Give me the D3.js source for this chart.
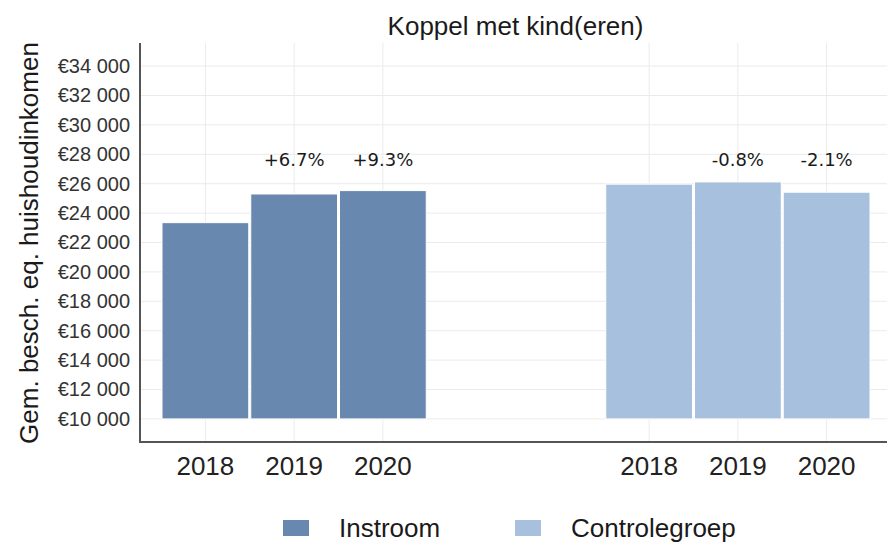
<!DOCTYPE html>
<html>
<head>
<meta charset="utf-8">
<script src="https://cdn.jsdelivr.net/npm/d3@7"></script>
<style>
  body { margin: 0; background: #fff; }
  svg { display: block; font-family: "Liberation Sans", Arial, sans-serif; }
</style>
</head>
<body>
<svg id="chart" width="887" height="542"></svg>
<script>
var years = ["2018", "2019", "2020"];
var groups = ["Instroom", "Controlegroep"];
var instroomValues = [23350, 25300, 25530];
var controleValues = [25970, 26120, 25420];
var instroomLabels = ["", "+6.7%", "+9.3%"];
var controleLabels = ["", "-0.8%", "-2.1%"];
var yTicks = [10000, 12000, 14000, 16000, 18000, 20000, 22000, 24000, 26000, 28000, 30000, 32000, 34000];
var labelLevel = 27200;  // height where the change labels sit
var colors = ["#6888b0", "#a7c0de"];

// plot area (window.top is taken, so no plain "top")
var plotLeft = 140, plotRight = 887, plotTop = 43, plotBottom = 442;

var svg = d3.select("#chart");

// two groups of three bars, two empty slots between them
var slots = [];
groups.forEach(function(g, gi) {
    if (gi > 0) { slots.push("gap1"); slots.push("gap2"); }
    years.forEach(function(y) { slots.push(g + "|" + y); });
});

var bars = [];
years.forEach(function(y, i) {
    bars.push({group: groups[0], year: y, value: instroomValues[i], label: instroomLabels[i]});
});
years.forEach(function(y, i) {
    bars.push({group: groups[1], year: y, value: controleValues[i], label: controleLabels[i]});
});

var xScale = d3.scaleBand().domain(slots).range([161, 871]).padding(0);
var yScale = d3.scaleLinear().domain([8430, 35570]).range([plotBottom, plotTop]);

function slotCenter(d) {
    return xScale(d.group + "|" + d.year) + xScale.bandwidth() / 2;
}

// grid
svg.append("g").selectAll("line")
    .data(yTicks).enter().append("line")
    .attr("x1", plotLeft).attr("x2", plotRight)
    .attr("y1", d => yScale(d)).attr("y2", d => yScale(d))
    .attr("stroke", "#ebebeb").attr("stroke-width", 1);

svg.append("g").selectAll("line")
    .data(bars).enter().append("line")
    .attr("x1", slotCenter).attr("x2", slotCenter)
    .attr("y1", plotTop).attr("y2", plotBottom)
    .attr("stroke", "#ebebeb").attr("stroke-width", 1);

// bars start at 10 000
svg.append("g").selectAll("rect")
    .data(bars).enter().append("rect")
    .attr("x", d => xScale(d.group + "|" + d.year) + 1)
    .attr("width", xScale.bandwidth() - 2)
    .attr("y", d => yScale(d.value))
    .attr("height", d => yScale(10000) - yScale(d.value))
    .attr("fill", d => colors[groups.indexOf(d.group)])
    .attr("stroke", "#fff").attr("stroke-width", 1);

// change labels
svg.append("g").selectAll("text")
    .data(bars.filter(d => d.label)).enter().append("text")
    .attr("x", slotCenter)
    .attr("y", yScale(labelLevel))
    .attr("text-anchor", "middle")
    .style("font-family", "'DejaVu Sans', sans-serif")
    .style("font-size", "18px")
    .attr("fill", "#1a1a1a")
    .text(d => d.label);

// y axis
var yAxis = d3.axisLeft(yScale)
    .tickValues(yTicks)
    .tickSize(0)
    .tickPadding(10)
    .tickFormat(d => "€" + d3.format(",")(d).replace(",", " "));

var yg = svg.append("g")
    .attr("transform", "translate(" + plotLeft + ",0)")
    .call(yAxis);
yg.select(".domain").remove();
yg.selectAll("text")
    .style("font-family", "'Liberation Sans', Arial, sans-serif")
    .style("font-size", "20px")
    .attr("fill", "#333");

// x axis
var xAxis = d3.axisBottom(xScale)
    .tickValues(bars.map(d => d.group + "|" + d.year))
    .tickSize(0)
    .tickPadding(15)
    .tickFormat(d => d.split("|")[1]);

var xg = svg.append("g")
    .attr("transform", "translate(0," + plotBottom + ")")
    .call(xAxis);
xg.select(".domain").remove();
xg.selectAll("text")
    .style("font-family", "'Liberation Sans', Arial, sans-serif")
    .style("font-size", "26px")
    .attr("fill", "#222");

// axis lines
svg.append("path")
    .attr("d", "M" + plotLeft + "," + plotTop + "V" + plotBottom + "H" + plotRight)
    .attr("fill", "none")
    .attr("stroke", "#555")
    .attr("stroke-width", 2);

// title
svg.append("text")
    .attr("x", (plotLeft + plotRight) / 2 + 2)
    .attr("y", 35)
    .attr("text-anchor", "middle")
    .style("font-size", "26px")
    .attr("fill", "#1a1a1a")
    .text("Koppel met kind(eren)");

// y axis title
svg.append("text")
    .attr("transform", "translate(38,243) rotate(-90)")
    .attr("text-anchor", "middle")
    .style("font-size", "26px")
    .attr("fill", "#1a1a1a")
    .text("Gem. besch. eq. huishoudinkomen");

// legend
var legendX = [283, 515];
var legend = svg.append("g").selectAll("g")
    .data(groups).enter().append("g")
    .attr("transform", (d, i) => "translate(" + legendX[i] + ",0)");
legend.append("rect")
    .attr("x", 0).attr("y", 520)
    .attr("width", 26).attr("height", 16)
    .attr("fill", (d, i) => colors[i]);
legend.append("text")
    .attr("x", 56).attr("y", 537)
    .style("font-size", "26px")
    .attr("fill", "#1a1a1a")
    .text(d => d);
</script>
</body>
</html>
